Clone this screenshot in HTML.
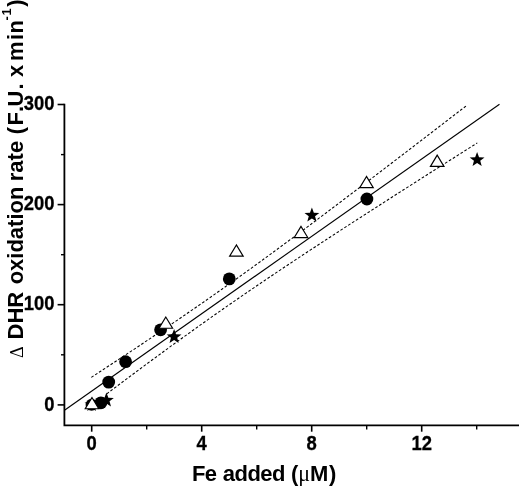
<!DOCTYPE html>
<html><head><meta charset="utf-8"><title>Fe added vs DHR oxidation rate</title>
<style>
html,body{margin:0;padding:0;background:#fff;}
svg{display:block}
text{font-family:"Liberation Sans",sans-serif;font-weight:bold;fill:#000;font-kerning:none}
.tk{font-size:19.4px;stroke:#000;stroke-width:0.3px}
.lb{font-size:22px}
.sym{font-family:"Liberation Serif","DejaVu Serif",serif;font-weight:normal}
</style></head><body>
<svg width="520" height="487" viewBox="0 0 520 487">
<rect width="520" height="487" fill="#fff"/>
<path d="M64.4,103.7 V425.3 H519" fill="none" stroke="#000" stroke-width="1.8"/>
<line x1="57.6" y1="104.5" x2="64.4" y2="104.5" stroke="#000" stroke-width="1.6"/>
<text transform="translate(54.5,110.1) scale(0.95,1)" text-anchor="end" class="tk">300</text>
<line x1="57.6" y1="204.6" x2="64.4" y2="204.6" stroke="#000" stroke-width="1.6"/>
<text transform="translate(54.5,210.2) scale(0.95,1)" text-anchor="end" class="tk">200</text>
<line x1="57.6" y1="304.7" x2="64.4" y2="304.7" stroke="#000" stroke-width="1.6"/>
<text transform="translate(54.5,310.3) scale(0.95,1)" text-anchor="end" class="tk">100</text>
<line x1="57.6" y1="404.9" x2="64.4" y2="404.9" stroke="#000" stroke-width="1.6"/>
<text transform="translate(54.5,410.5) scale(0.95,1)" text-anchor="end" class="tk">0</text>
<line x1="61" y1="154.6" x2="64.4" y2="154.6" stroke="#000" stroke-width="1.4"/>
<line x1="61" y1="254.7" x2="64.4" y2="254.7" stroke="#000" stroke-width="1.4"/>
<line x1="61" y1="354.8" x2="64.4" y2="354.8" stroke="#000" stroke-width="1.4"/>
<line x1="91.7" y1="425.3" x2="91.7" y2="431.7" stroke="#000" stroke-width="1.6"/>
<text transform="translate(91.7,449.7) scale(0.95,1)" text-anchor="middle" class="tk">0</text>
<line x1="201.7" y1="425.3" x2="201.7" y2="431.7" stroke="#000" stroke-width="1.6"/>
<text transform="translate(201.7,449.7) scale(0.95,1)" text-anchor="middle" class="tk">4</text>
<line x1="311.7" y1="425.3" x2="311.7" y2="431.7" stroke="#000" stroke-width="1.6"/>
<text transform="translate(311.7,449.7) scale(0.95,1)" text-anchor="middle" class="tk">8</text>
<line x1="421.7" y1="425.3" x2="421.7" y2="431.7" stroke="#000" stroke-width="1.6"/>
<text transform="translate(421.7,449.7) scale(0.95,1)" text-anchor="middle" class="tk">12</text>
<line x1="146.7" y1="425.3" x2="146.7" y2="429.5" stroke="#000" stroke-width="1.4"/>
<line x1="256.7" y1="425.3" x2="256.7" y2="429.5" stroke="#000" stroke-width="1.4"/>
<line x1="366.7" y1="425.3" x2="366.7" y2="429.5" stroke="#000" stroke-width="1.4"/>
<line x1="476.7" y1="425.3" x2="476.7" y2="429.5" stroke="#000" stroke-width="1.4"/>
<line x1="64.5" y1="410.20" x2="499.5" y2="104.31" stroke="#000" stroke-width="1.12"/>
<polyline points="91.3,377.34 100.7,371.21 110.1,365.06 119.5,358.88 128.9,352.68 138.3,346.44 147.7,340.17 157.1,333.87 166.5,327.52 175.9,321.14 185.3,314.71 194.7,308.23 204.1,301.70 213.5,295.13 222.9,288.50 232.3,281.82 241.7,275.10 251.1,268.32 260.5,261.50 269.9,254.64 279.3,247.73 288.7,240.79 298.1,233.82 307.5,226.81 316.9,219.78 326.3,212.72 335.7,205.64 345.1,198.53 354.5,191.41 363.9,184.27 373.3,177.12 382.7,169.95 392.1,162.77 401.5,155.58 410.9,148.38 420.3,141.17 429.7,133.95 439.1,126.72 448.5,119.49 457.9,112.25 467.3,105.01" fill="none" stroke="#000" stroke-width="1.05" stroke-dasharray="2.7,1.9"/>
<polyline points="106.8,393.80 116.1,386.83 125.3,379.90 134.6,372.99 143.8,366.11 153.1,359.27 162.4,352.47 171.6,345.70 180.9,338.98 190.2,332.31 199.4,325.69 208.7,319.11 217.9,312.59 227.2,306.12 236.5,299.70 245.7,293.33 255.0,287.00 264.3,280.72 273.5,274.49 282.8,268.29 292.1,262.12 301.3,255.99 310.6,249.89 319.8,243.82 329.1,237.77 338.4,231.75 347.6,225.74 356.9,219.75 366.2,213.78 375.4,207.82 384.7,201.88 393.9,195.94 403.2,190.02 412.5,184.11 421.7,178.20 431.0,172.31 440.2,166.42 449.5,160.54 458.8,154.66 468.0,148.79 477.3,142.92" fill="none" stroke="#000" stroke-width="1.05" stroke-dasharray="2.7,1.9"/>
<circle cx="91.6" cy="404.8" r="6.0" fill="#000"/>
<polygon points="91.60,397.50 93.36,402.47 98.64,402.61 94.45,405.83 95.95,410.89 91.60,407.90 87.25,410.89 88.75,405.83 84.56,402.61 89.84,402.47" fill="#000"/>
<circle cx="100.9" cy="402.8" r="6.4" fill="#000"/>
<circle cx="108.7" cy="382.1" r="6.4" fill="#000"/>
<circle cx="125.6" cy="361.7" r="6.4" fill="#000"/>
<circle cx="160.6" cy="329.8" r="6.4" fill="#000"/>
<circle cx="229.3" cy="278.9" r="6.4" fill="#000"/>
<circle cx="366.9" cy="199" r="6.4" fill="#000"/>
<polygon points="106.40,392.50 108.34,397.63 113.82,397.89 109.54,401.32 110.98,406.61 106.40,403.60 101.82,406.61 103.26,401.32 98.98,397.89 104.46,397.63" fill="#000"/>
<polygon points="174.10,329.00 176.04,334.13 181.52,334.39 177.24,337.82 178.68,343.11 174.10,340.10 169.52,343.11 170.96,337.82 166.68,334.39 172.16,334.13" fill="#000"/>
<polygon points="311.90,207.50 313.84,212.63 319.32,212.89 315.04,216.32 316.48,221.61 311.90,218.60 307.32,221.61 308.76,216.32 304.48,212.89 309.96,212.63" fill="#000"/>
<polygon points="477.10,152.00 479.04,157.13 484.52,157.39 480.24,160.82 481.68,166.11 477.10,163.10 472.52,166.11 473.96,160.82 469.68,157.39 475.16,157.13" fill="#000"/>
<polygon points="92.00,397.55 85.25,408.75 98.75,408.75" fill="#fff" stroke="#000" stroke-width="1.2" stroke-linejoin="miter"/>
<polygon points="165.80,317.05 159.05,328.25 172.55,328.25" fill="#fff" stroke="#000" stroke-width="1.2" stroke-linejoin="miter"/>
<polygon points="236.40,244.95 229.65,256.15 243.15,256.15" fill="#fff" stroke="#000" stroke-width="1.2" stroke-linejoin="miter"/>
<polygon points="301.00,226.35 294.25,237.55 307.75,237.55" fill="#fff" stroke="#000" stroke-width="1.2" stroke-linejoin="miter"/>
<polygon points="366.50,176.45 359.75,187.65 373.25,187.65" fill="#fff" stroke="#000" stroke-width="1.2" stroke-linejoin="miter"/>
<polygon points="437.20,155.15 430.45,166.35 443.95,166.35" fill="#fff" stroke="#000" stroke-width="1.2" stroke-linejoin="miter"/>
<text transform="translate(191.9,480.9) scale(1,1.04)" class="lb"><tspan letter-spacing="-0.55">Fe <tspan dx="0.8">a</tspan>dded</tspan> (<tspan class="sym">μ</tspan>M<tspan dx="0.6">)</tspan></text>
<text transform="translate(23.2,358) rotate(-90) scale(1,1.035)" class="lb"><tspan class="sym" font-size="18">Δ</tspan> <tspan dx="0.8">D</tspan>HR<tspan dx="1.4"> </tspan>oxidation<tspan dx="-0.7"> </tspan>rate <tspan dx="0.5">(</tspan><tspan dx="1.5">F</tspan>.<tspan dx="-0.5">U</tspan><tspan dx="1.1">.</tspan><tspan dx="0.3"> </tspan>x <tspan dx="-2.5">m</tspan><tspan dx="1.45">i</tspan><tspan dx="0.4">n</tspan><tspan dy="-11.5" dx="-0.3" font-size="13">-</tspan><tspan dx="0.45" font-size="13">1</tspan><tspan dy="11.5" dx="1.55">)</tspan></text>
</svg>
</body></html>
